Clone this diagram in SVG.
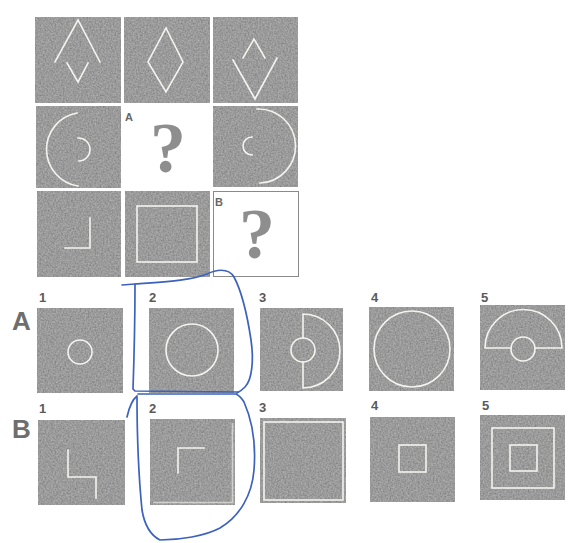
<svg xmlns="http://www.w3.org/2000/svg" width="578" height="543" viewBox="0 0 578 543">
<defs>
<filter id="grain" x="0" y="0" width="100%" height="100%">
<feTurbulence type="fractalNoise" baseFrequency="0.6" numOctaves="2" seed="3" result="n"/>
<feColorMatrix in="n" type="matrix" values="1 0 0 0 0  1 0 0 0 0  1 0 0 0 0  0 0 0 0 0.3" result="g"/>
<feComposite in="g" in2="SourceGraphic" operator="in" result="gc"/>
<feMerge><feMergeNode in="SourceGraphic"/><feMergeNode in="gc"/></feMerge>
</filter>
<style>
.box{fill:#8a8a8a;filter:url(#grain)}
.ln{fill:none;stroke:#f3f3ef;stroke-width:1.6;stroke-linecap:square}
.q{font-family:"Liberation Serif",serif;font-weight:bold;font-size:72px;fill:#8e8e8e;text-anchor:middle}
.cl{font-family:"Liberation Sans",Arial,sans-serif;font-weight:bold;font-size:11px;fill:#666}
.num{font-family:"Liberation Sans",Arial,sans-serif;font-weight:bold;font-size:13px;fill:#5a5a5a}
.big{font-family:"Liberation Sans",Arial,sans-serif;font-weight:bold;font-size:26px;fill:#6e6e6e}
.pen{fill:none;stroke:#3c62bd;stroke-width:1.7;stroke-linecap:round;stroke-linejoin:round}
</style>
</defs>
<rect width="578" height="543" fill="#ffffff"/>

<g id="matrix">
<g id="r1c1"><rect class="box" x="35" y="17" width="86" height="86"/><path class="ln" d="M55,62 L78,20 L100,62 M67,63 L78,82 L88,63"/></g>
<g id="r1c2"><rect class="box" x="124" y="17" width="86" height="86"/><path class="ln" d="M166,28 L183,62 L166,92 L148,62 Z"/></g>
<g id="r1c3"><rect class="box" x="213" y="17" width="85" height="86"/><path class="ln" d="M243,58 L254,39 L265,58 M233,60 L255,99 L277,58"/></g>
<g id="r2c1"><rect class="box" x="36" y="106" width="85" height="82"/><path class="ln" d="M77,113 A37,37 0 0 0 78,186 M78,138 A11.5,11.5 0 0 1 79,161"/></g>
<g id="r2c2"><text class="cl" x="125" y="121" font-size="10">A</text><text class="q" x="168" y="172">?</text></g>
<g id="r2c3"><rect class="box" x="213" y="106" width="85" height="81"/><path class="ln" d="M257,109 A37,37 0 0 1 260,183 M252,137 A9,9 0 0 0 252,155"/></g>
<g id="r3c1"><rect class="box" x="37" y="191" width="84" height="86"/><path class="ln" d="M90,218 V248 H65"/></g>
<g id="r3c2"><rect class="box" x="125" y="191" width="85" height="86"/><rect class="ln" x="137" y="206" width="60" height="56"/></g>
<g id="r3c3"><rect x="213.5" y="191.5" width="85" height="85" fill="#fff" stroke="#8a8a8a" stroke-width="1"/><text class="cl" x="215" y="206">B</text><text class="q" x="257" y="258">?</text></g>
</g>

<g id="rowA">
<text class="big" x="12" y="330">A</text>
<g id="A1"><text class="num" x="39" y="302">1</text><rect class="box" x="37" y="308" width="86" height="85"/><circle class="ln" cx="80" cy="352" r="12"/></g>
<g id="A2"><text class="num" x="149" y="302">2</text><rect class="box" x="149" y="308" width="85" height="85"/><circle class="ln" cx="192" cy="350" r="26"/></g>
<g id="A3"><text class="num" x="259" y="302">3</text><rect class="box" x="260" y="308" width="83" height="83"/><path class="ln" d="M303,314 V338 M303,362 V388 M303,314 A37,37 0 0 1 303,388"/><circle class="ln" cx="303" cy="350" r="12"/></g>
<g id="A4"><text class="num" x="371" y="302">4</text><rect class="box" x="369" y="307" width="85" height="84"/><circle class="ln" cx="412" cy="349" r="38"/></g>
<g id="A5"><text class="num" x="481" y="302">5</text><rect class="box" x="480" y="305" width="85" height="85"/><path class="ln" d="M511,348 H485 A38.5,38.5 0 0 1 562,348 H535"/><circle class="ln" cx="523" cy="349" r="12"/></g>
</g>

<g id="rowB">
<text class="big" x="12" y="438">B</text>
<g id="B1"><text class="num" x="39" y="413">1</text><rect class="box" x="38" y="420" width="87" height="85"/><path class="ln" d="M68,450 V477 H96 V498"/></g>
<g id="B2"><text class="num" x="149" y="413">2</text><rect class="box" x="150" y="419" width="85" height="86"/><path class="ln" d="M178,473 V448 H204"/><path class="ln" opacity="0.6" d="M232.5,424 V502.5 H154"/></g>
<g id="B3"><text class="num" x="259" y="412">3</text><rect class="box" x="260" y="418" width="86" height="85"/><rect class="ln" x="264" y="422" width="79" height="78"/></g>
<g id="B4"><text class="num" x="371" y="410">4</text><rect class="box" x="370" y="417" width="85" height="85"/><rect class="ln" x="399" y="445" width="27" height="27"/></g>
<g id="B5"><text class="num" x="482" y="410">5</text><rect class="box" x="480" y="415" width="85" height="85"/><rect class="ln" x="492" y="428" width="62" height="60"/><rect class="ln" x="510" y="445" width="27" height="26"/></g>
</g>

<g id="connectors">
<path class="pen" d="M122,285 L135,284 C160,282 190,281 207,274 C215,270 228,267 234,277 C242,292 248,320 251,340 C254,360 252,380 245,387 C242,390 239,392 237,393"/>
<path class="pen" d="M135,284 C135,310 134,360 133,389 L135,391 L238,392"/>
<path class="pen" d="M127,417 C129,408 132,400 137,396 C137,430 139,480 142,510 C145,528 152,536 160,540 C180,540 205,536 220,528 C240,516 252,495 254,470 C256,445 252,420 244,402 C241,397 238,395 236,394 L138,394"/>
</g>
</svg>
